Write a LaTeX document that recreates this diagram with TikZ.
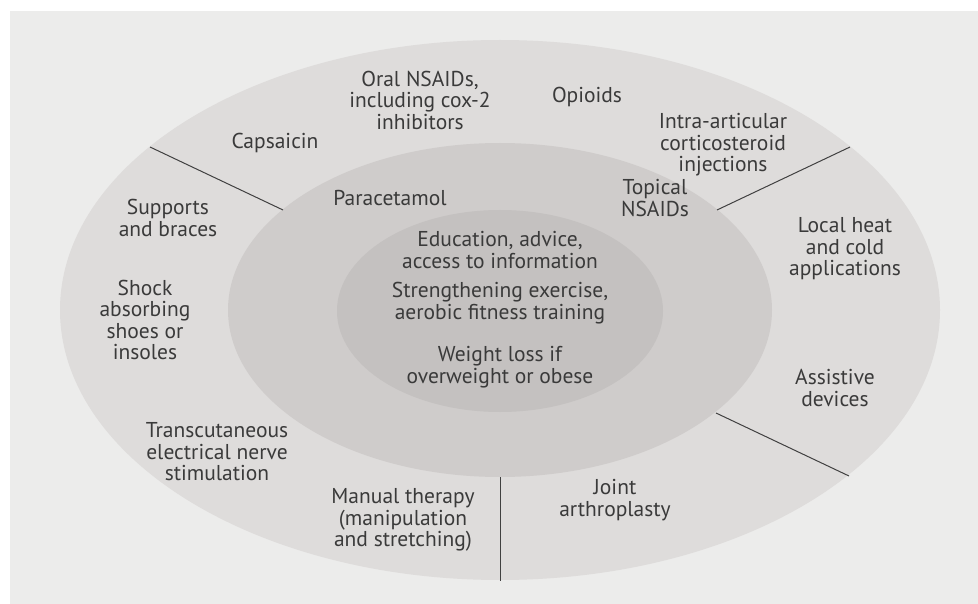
\documentclass[tikz,border=0pt]{standalone}
\usepackage{fontspec}
\setmainfont{PT Sans}
\usetikzlibrary{shapes.geometric}
\definecolor{panel}{HTML}{ECECEB}
\definecolor{ringA}{HTML}{DEDCDB}
\definecolor{ringB}{HTML}{CFCCCB}
\definecolor{ringC}{HTML}{C4C1C0}
\definecolor{txt}{HTML}{3A3A3A}
\begin{document}
\begin{tikzpicture}[x=1pt,y=-1pt,
  ring/.style={ellipse,draw=none,inner sep=0pt},
  lbl/.style={align=center,text=txt,inner sep=0pt,font=\fontsize{21.5}{21.5}\selectfont},
  divider/.style={draw=black!75,line width=1pt}]
\useasboundingbox (0,0) rectangle (978,604);
\fill[white] (0,0) rectangle (978,604);
\fill[panel] (10,11) rectangle (978,604);
\node[ring,fill=ringA,minimum width=880pt,minimum height=540pt] (outer) at (500,310) {};
\node[ring,fill=ringB,minimum width=544pt,minimum height=334pt] (middle) at (500,310) {};
\node[ring,fill=ringC,minimum width=326pt,minimum height=202pt] (inner) at (500,311) {};
% dividers
\coordinate (d1a) at (283,210); \coordinate (d1b) at (150,147);
\coordinate (d2a) at (717,210); \coordinate (d2b) at (850,147);
\coordinate (d3a) at (716,413); \coordinate (d3b) at (849,476);
\coordinate (d4a) at (500,477); \coordinate (d4b) at (500,581);
\draw[divider] (d1a) -- (d1b);
\draw[divider] (d2a) -- (d2b);
\draw[divider] (d3a) -- (d3b);
\draw[divider] (d4a) -- (d4b);
% outer ring labels
\node[lbl] (caps) at (275,143) {Capsaicin};
\node[lbl] (oral) at (420,100) {Oral NSAIDs,\\including cox-2\\inhibitors};
\node[lbl] (opio) at (587,97) {Opioids};
\node[lbl] (intra) at (723,145) {Intra-articular\\corticosteroid\\injections};
\node[lbl] (supp) at (168,218) {Supports\\and braces};
\node[lbl] (shock) at (145,320) {Shock\\absorbing\\shoes or\\insoles};
\node[lbl] (tens) at (217,452) {Transcutaneous\\electrical nerve\\stimulation};
\node[lbl] (manual) at (403,520) {Manual therapy\\(manipulation\\and stretching)};
\node[lbl] (joint) at (615,500) {Joint\\arthroplasty};
\node[lbl] (heat) at (845,249) {Local heat\\and cold\\applications};
\node[lbl] (assist) at (835,388) {Assistive\\devices};
% middle ring labels
\node[lbl] (para) at (390,198) {Paracetamol};
\node[lbl] (topical) at (655,198) {Topical\\NSAIDs};
% inner labels
\node[lbl] (edu) at (500,250) {Education, advice,\\access to information};
\node[lbl] (str) at (500,303) {Strengthening exercise,\\aerobic fitness training};
\node[lbl] (wt) at (500,367) {Weight loss if\\overweight or obese};
\end{tikzpicture}
\end{document}
